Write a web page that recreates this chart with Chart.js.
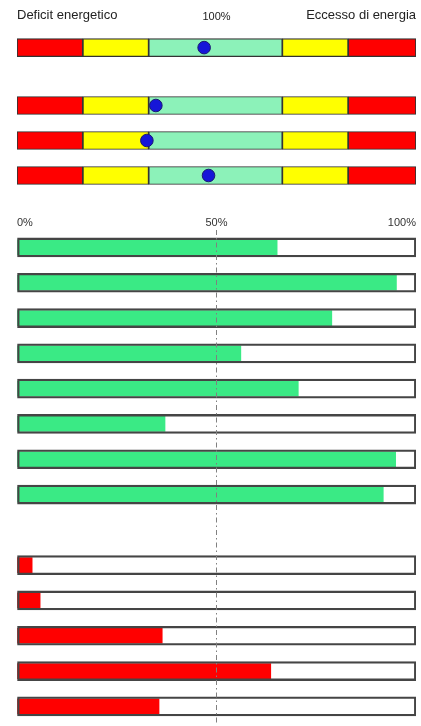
<!DOCTYPE html>
<html><head><meta charset="utf-8">
<script src="https://cdn.jsdelivr.net/npm/chart.js@4/dist/chart.umd.min.js"></script>
<style>
html,body{margin:0;padding:0;background:#fff;}
#wrap{position:relative;width:421px;height:726px;overflow:hidden;background:#fff;}
.c{position:absolute;left:0;width:421px;}
</style></head><body>
<div id="wrap">
<div class="c" style="top:0;height:67px"><canvas id="c1"></canvas></div>
<div class="c" style="top:88px;height:105px"><canvas id="c2"></canvas></div>
<div class="c" style="top:201px;height:526px"><canvas id="c3"></canvas></div>
</div>
<script>
// ---- data ----
const headerLabels = ['Deficit energetico', '100%', 'Eccesso di energia'];
const zoneBounds = [0, 33, 66, 133, 166, 200];          // scale 0–200 %
const referenceRow = ['ref'];
const referenceDot = [93.8];
const sampleRows = ['s1', 's2', 's3'];
const sampleDots = [69.6, 65.1, 96.0];
const percentLabels = ['0%', '50%', '100%'];
const greenRows = ['g1','g2','g3','g4','g5','g6','g7','g8'];
const greenValues = [65.2, 95.1, 78.9, 56.1, 70.5, 37.1, 94.9, 91.8];
const gapRow = [''];
const redRows = ['r1','r2','r3','r4','r5'];
const redValues = [3.8, 5.8, 36.4, 63.6, 35.6];

// ---- styles ----
const FONT = '"Liberation Sans", Arial, sans-serif';
const zoneColors = ['#ff0000', '#ffff00', '#8cf2b9', '#ffff00', '#ff0000'];
const GREEN = '#3aea85', RED = '#ff0000';
const BOX_BORDER = '#454545';
const common = {
  responsive: true, maintainAspectRatio: false, animation: false,
  indexAxis: 'y',
  plugins: { legend: { display: false }, tooltip: { enabled: false } },
  events: []
};

function zoneDatasets(rows) {
  const ds = [];
  for (let i = 0; i < zoneBounds.length - 1; i++) {
    ds.push({
      type: 'bar',
      data: rows.map(() => [zoneBounds[i], zoneBounds[i + 1]]),
      backgroundColor: zoneColors[i],
      borderColor: '#333',
      borderWidth: 1.2,
      borderSkipped: false,
      barThickness: 18,
      grouped: false
    });
  }
  return ds;
}
function dotDataset(rows, vals) {
  return {
    type: 'scatter',
    data: vals.map((v, i) => ({ x: v, y: rows[i] })),
    backgroundColor: '#1616d8',
    borderColor: '#1a1a70',
    borderWidth: 1,
    pointRadius: 6.3
  };
}

// chart 1: reference row with header
new Chart(document.getElementById('c1'), {
  type: 'bar',
  data: { labels: referenceRow, datasets: [dotDataset(referenceRow, referenceDot), ...zoneDatasets(referenceRow)] },
  options: {
    ...common,
    layout: { autoPadding: false, padding: { left: 17, right: 5, top: 2.6, bottom: 0 } },
    scales: {
      x: {
        type: 'linear', position: 'top', min: 0, max: 200,
        grid: { display: false, drawTicks: false }, border: { display: false },
        ticks: {
          stepSize: 100, align: 'inner', padding: 5, color: '#222',
          font: (c) => ({ family: FONT, size: c.index === 1 ? 11 : 13 }),
          callback: (v, i) => headerLabels[i]
        }
      },
      y: { type: 'category', display: false }
    }
  }
});

// chart 2: sample rows
new Chart(document.getElementById('c2'), {
  type: 'bar',
  data: { labels: sampleRows, datasets: [dotDataset(sampleRows, sampleDots), ...zoneDatasets(sampleRows)] },
  options: {
    ...common,
    layout: { autoPadding: false, padding: { left: 17, right: 5, top: 0, bottom: 0 } },
    scales: {
      x: { type: 'linear', display: false, min: 0, max: 200 },
      y: { type: 'category', display: false }
    }
  }
});

// chart 3: percentage bars
const rows = [...greenRows, ...gapRow, ...redRows];
const greenData = [...greenValues, ...gapRow.map(() => null), ...redRows.map(() => null)];
const redData = [...greenRows.map(() => null), ...gapRow.map(() => null), ...redValues];
const boxData = rows.map(r => (r === '' ? null : 100));
new Chart(document.getElementById('c3'), {
  type: 'bar',
  data: {
    labels: rows,
    datasets: [
      { data: boxData, backgroundColor: 'rgba(0,0,0,0)', borderColor: BOX_BORDER, borderWidth: 1.6,
        borderSkipped: false, barThickness: 19, grouped: false },
      { data: greenData, backgroundColor: GREEN, borderWidth: 0, barThickness: 15, grouped: false },
      { data: redData, backgroundColor: RED, borderWidth: 0, barThickness: 15, grouped: false }
    ]
  },
  options: {
    ...common,
    layout: { autoPadding: false, padding: { left: 17, right: 5, top: 15.6, bottom: 3 } },
    scales: {
      x: {
        type: 'linear', position: 'top', min: 0, max: 100,
        grid: {
          drawTicks: false, z: 1, lineWidth: 1,
          color: (c) => (c.tick && c.tick.value === 50 ? '#808080' : 'rgba(0,0,0,0)')
        },
        border: { display: false, dash: [5, 3, 1.5, 3] },
        ticks: {
          stepSize: 50, align: 'inner', padding: 0, color: '#333',
          font: { family: FONT, size: 11 },
          callback: (v, i) => percentLabels[i]
        }
      },
      y: { type: 'category', display: false }
    }
  }
});
</script>
</body></html>
